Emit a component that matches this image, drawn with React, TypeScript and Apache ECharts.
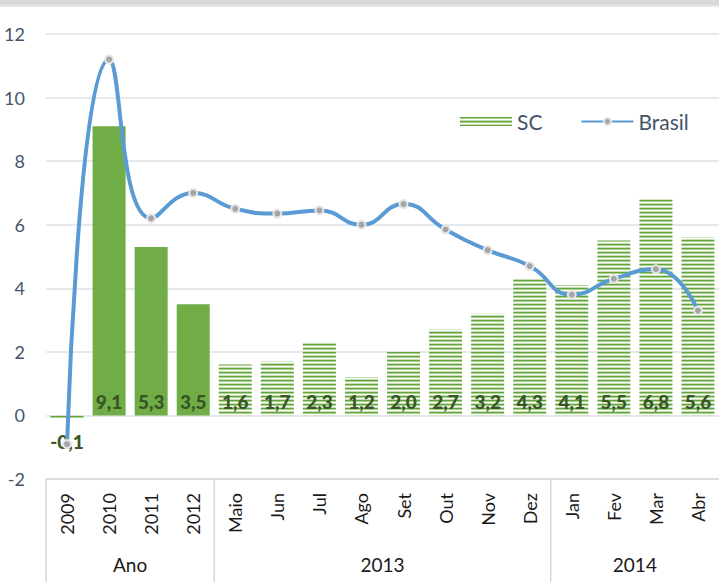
import React, { useEffect, useRef } from "react";
import * as echarts from "echarts";

const categories = ["2009", "2010", "2011", "2012", "Maio", "Jun", "Jul", "Ago", "Set", "Out", "Nov", "Dez", "Jan", "Fev", "Mar", "Abr"];
const scValues = [-0.1, 9.1, 5.3, 3.5, 1.6, 1.7, 2.3, 1.2, 2.0, 2.7, 3.2, 4.3, 4.1, 5.5, 6.8, 5.6];
const brasilValues = [-0.9, 11.2, 6.2, 7.0, 6.5, 6.35, 6.45, 6.0, 6.65, 5.85, 5.2, 4.7, 3.8, 4.3, 4.6, 3.3];
const solidIndices = [1, 2, 3];
const groups = [
  { label: "Ano", start: 0, end: 3 },
  { label: "2013", start: 4, end: 11 },
  { label: "2014", start: 12, end: 15 },
];
const yTicks = { min: -2, max: 12, interval: 2 };

function makePattern(): string {
  const c = document.createElement("canvas");
  c.width = 4;
  c.height = 4;
  const ctx = c.getContext("2d")!;
  const rows = ["#64A33D", "#A9D18E", "#FFFFFF", "#C5E0B4"];
  rows.forEach((col, i) => {
    ctx.fillStyle = col;
    ctx.fillRect(0, i, 4, 1);
  });
  return c.toDataURL();
}

export default function App() {
  const ref = useRef<HTMLDivElement>(null);
  useEffect(() => {
    if (!ref.current) return;
    const chart = echarts.init(ref.current, undefined, { renderer: "svg" });
    const pattern = { image: makePattern(), repeat: "repeat" } as any;
    const fmt = (v: number) => v.toFixed(1).replace(".", ",");
    const font = "Lato, 'Noto Sans', sans-serif";

    const barData = scValues.map((v, i) => {
      const item: any = {
        value: v,
        itemStyle: { color: solidIndices.includes(i) ? "#70AD47" : pattern },
      };
      if (v < 0) {
        item.label = { position: "bottom", distance: 13 };
      }
      return item;
    });

    chart.setOption({
      animation: false,
      backgroundColor: "#FFFFFF",
      grid: { left: 46, right: -7, top: 34, bottom: 103 },
      legend: {
        left: 455,
        top: 106,
        itemWidth: 52,
        itemHeight: 9,
        itemGap: 38,
        textStyle: { fontSize: 21, color: "#44546A", fontFamily: font },
        data: [
          { name: "SC", icon: "rect", itemStyle: { color: pattern } },
          { name: "Brasil" },
        ],
      },
      xAxis: {
        type: "category",
        data: categories,
        axisLine: { onZero: false, lineStyle: { color: "#D9D9D9", width: 1.5 } },
        axisTick: { show: false },
        axisLabel: {
          rotate: 90,
          margin: 14,
          fontSize: 18,
          color: "#1a1a1a",
          fontFamily: font,
        },
      },
      yAxis: {
        type: "value",
        min: yTicks.min,
        max: yTicks.max,
        interval: yTicks.interval,
        axisLine: { show: false },
        axisTick: { show: false },
        axisLabel: { fontSize: 18, color: "#44546A", margin: 21, fontFamily: font },
        splitLine: { lineStyle: { color: "#DDE2E8", width: 1.5 } },
      },
      series: [
        {
          name: "SC",
          type: "bar",
          barWidth: 33,
          data: barData,
          label: {
            show: true,
            position: "insideBottom",
            distance: 4,
            fontSize: 19,
            fontWeight: 900,
            color: "#375623",
            fontFamily: font,
            formatter: (p: any) => fmt(p.value),
          },
          z: 2,
        },
        {
          name: "Brasil",
          type: "line",
          data: brasilValues,
          smooth: 0.5,
          symbol: "circle",
          symbolSize: 8,
          lineStyle: { color: "#5B9BD5", width: 4 },
          itemStyle: { color: "#A5A5A5", borderColor: "#E6E6E6", borderWidth: 2 },
          z: 3,
        },
      ],
    });

    const yBottom = chart.convertToPixel({ yAxisIndex: 0 }, yTicks.min) as number;
    const step =
      (chart.convertToPixel({ xAxisIndex: 0 }, categories[1]) as number) -
      (chart.convertToPixel({ xAxisIndex: 0 }, categories[0]) as number);
    const px = (i: number) => chart.convertToPixel({ xAxisIndex: 0 }, categories[i]) as number;
    const graphics: any[] = [
      { type: "rect", shape: { x: 0, y: 0, width: 719, height: 5 }, style: { fill: "#D9D9D9" } },
      { type: "rect", shape: { x: 0, y: 5, width: 719, height: 2 }, style: { fill: "#E3E8EE" } },
    ];
    groups.forEach((g) => {
      const left = px(g.start) - step / 2;
      const right = px(g.end) + step / 2;
      graphics.push({
        type: "line",
        shape: { x1: left, y1: yBottom, x2: left, y2: 582 },
        style: { stroke: "#D9D9D9", lineWidth: 1.5 },
      });
      graphics.push({
        type: "text",
        x: (left + right) / 2,
        y: 564,
        style: {
          text: g.label,
          fontSize: 19,
          fill: "#1a1a1a",
          fontFamily: font,
          align: "center",
          verticalAlign: "middle",
        },
      });
    });
    chart.setOption({ graphic: graphics });

    return () => chart.dispose();
  }, []);
  return <div ref={ref} style={{ width: 719, height: 582, position: "absolute", left: 0, top: 0 }} />;
}
